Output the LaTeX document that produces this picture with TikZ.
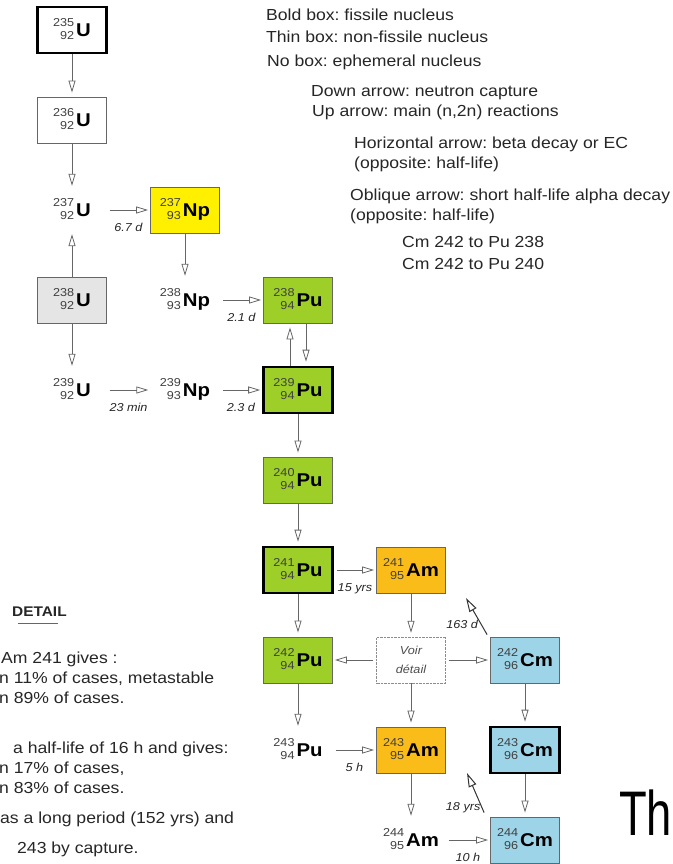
\documentclass[tikz,border=0pt]{standalone}
\usepackage{fontspec}
\setmainfont{Liberation Sans}[FakeStretch=1.1]
\newfontfamily\narrowfont{Liberation Sans}[FakeStretch=0.72]
\usetikzlibrary{arrows.meta}
\frenchspacing

\definecolor{npyellow}{RGB}{255,240,0}
\definecolor{pugreen}{RGB}{158,206,40}
\definecolor{amorange}{RGB}{250,188,24}
\definecolor{cmblue}{RGB}{158,212,232}

% mass number over atomic number, then the symbol
\newcommand{\nuc}[3]{%
  \raisebox{3.5pt}{\fontsize{11.5}{13}\selectfont\color{black!75}%
    \begin{tabular}{@{}r@{}}#1\\#2\end{tabular}}%
  \hspace{2pt}{\fontsize{18.5}{18.5}\selectfont\bfseries #3}}

\tikzset{
  nucl/.style={minimum width=69pt, minimum height=46pt, inner sep=0pt},
  ephemeral/.style={nucl, minimum height=40pt},
  thinbox/.style={nucl, draw=black!60, line width=0.8pt},
  boldbox/.style={nucl, draw=black, line width=2.6pt},
  capture/.style={draw=black!60, line width=0.8pt,
    -{Triangle[open, length=12pt, width=7pt]}, shorten >=4pt},
  decay/.style={capture, shorten <=3pt, shorten >=2pt},
  alpha/.style={draw=black!80, line width=1pt,
    -{Triangle[open, length=14pt, width=8pt]}},
  halflife/.style={below=12pt, inner sep=1pt,
    font=\fontsize{11.5}{11.5}\selectfont\itshape, text=black!85},
  legend/.style={anchor=base west, inner sep=0pt,
    font=\fontsize{16}{18}\selectfont, text=black!85},
  detailtext/.style={anchor=base west, inner sep=0pt,
    font=\fontsize{16}{18}\selectfont, text=black!85}
}

\begin{document}
\begin{tikzpicture}[x=1pt, y=-1pt]
\useasboundingbox (0,0) rectangle (672,864);

% uranium
\node[boldbox] (u235) at (72,30) {\nuc{235}{92}{U}};
\node[thinbox] (u236) at (72,120) {\nuc{236}{92}{U}};
\node[ephemeral] (u237) at (72,210) {\nuc{237}{92}{U}};
\node[thinbox, fill=black!10] (u238) at (72,300) {\nuc{238}{92}{U}};
\node[ephemeral] (u239) at (72,390) {\nuc{239}{92}{U}};

% neptunium
\node[thinbox, fill=npyellow] (np237) at (185,210) {\nuc{237}{93}{Np}};
\node[ephemeral] (np238) at (185,300) {\nuc{238}{93}{Np}};
\node[ephemeral] (np239) at (185,390) {\nuc{239}{93}{Np}};

% plutonium
\node[thinbox, fill=pugreen] (pu238) at (298,300) {\nuc{238}{94}{Pu}};
\node[boldbox, fill=pugreen] (pu239) at (298,390) {\nuc{239}{94}{Pu}};
\node[thinbox, fill=pugreen] (pu240) at (298,480) {\nuc{240}{94}{Pu}};
\node[boldbox, fill=pugreen] (pu241) at (298,570) {\nuc{241}{94}{Pu}};
\node[thinbox, fill=pugreen] (pu242) at (298,660) {\nuc{242}{94}{Pu}};
\node[ephemeral] (pu243) at (298,750) {\nuc{243}{94}{Pu}};

% americium
\node[thinbox, fill=amorange] (am241) at (411,570) {\nuc{241}{95}{Am}};
\node[nucl, draw=black!45, densely dotted, align=center, text=black!70,
  font=\fontsize{11.5}{13}\selectfont\itshape] (voir) at (411,660) {Voir\\[6pt]détail};
\node[thinbox, fill=amorange] (am243) at (411,750) {\nuc{243}{95}{Am}};
\node[ephemeral] (am244) at (411,840) {\nuc{244}{95}{Am}};

% curium
\node[thinbox, fill=cmblue] (cm242) at (525,660) {\nuc{242}{96}{Cm}};
\node[boldbox, fill=cmblue] (cm243) at (525,750) {\nuc{243}{96}{Cm}};
\node[thinbox, fill=cmblue] (cm244) at (525,840) {\nuc{244}{96}{Cm}};

% captures and (n,2n)
\draw[capture] (u235) -- (u236);
\draw[capture] (u236) -- (u237);
\draw[capture] (u238) -- (u237);
\draw[capture] (u238) -- (u239);
\draw[capture] (np237) -- (np238);
\draw[capture] ([xshift=-8pt]pu239.north) -- ([xshift=-8pt]pu238.south);
\draw[capture] ([xshift=8pt]pu238.south) -- ([xshift=8pt]pu239.north);
\draw[capture] (pu239) -- (pu240);
\draw[capture] (pu240) -- (pu241);
\draw[capture] (pu241) -- (pu242);
\draw[capture] (pu242) -- (pu243);
\draw[capture] (am241) -- (voir);
\draw[capture] (voir) -- (am243);
\draw[capture] (am243) -- (am244);
\draw[capture] (cm242) -- (cm243);
\draw[capture] (cm243) -- (cm244);

% beta decays
\draw[decay] (u237) -- node[halflife] {6.7 d} (np237);
\draw[decay] (np238) -- node[halflife] {2.1 d} (pu238);
\draw[decay] (u239) -- node[halflife] {23 min} (np239);
\draw[decay] (np239) -- node[halflife] {2.3 d} (pu239);
\draw[decay] (pu241) -- node[halflife] {15 yrs} (am241);
\draw[decay] (voir) -- (pu242);
\draw[decay] (voir) -- (cm242);
\draw[decay] (pu243) -- node[halflife] {5 h} (am243);
\draw[decay] (am244) -- node[halflife] {10 h} (cm244);

% alpha decays
\coordinate (alphaone) at (466,598);
\coordinate (alphatwo) at (467,773);
\draw[alpha] ([xshift=-3pt, yshift=2pt]cm242.north west) -- node[pos=0.27, left=3pt, inner sep=0pt,
  font=\fontsize{11.5}{11.5}\selectfont\itshape, text=black!85] {163 d} (alphaone);
\draw[alpha] ([xshift=-6pt, yshift=4pt]cm244.north west) -- node[pos=0.13, left=1pt, inner sep=0pt,
  font=\fontsize{11.5}{11.5}\selectfont\itshape, text=black!85] {18 yrs} (alphatwo);

% legend
\node[legend] (leg1) at (266,21) {Bold box: fissile nucleus};
\node[legend] (leg2) at (266,43) {Thin box: non-fissile nucleus};
\node[legend] (leg3) at (267,67) {No box: ephemeral nucleus};
\node[legend] (leg4) at (311,97) {Down arrow: neutron capture};
\node[legend] (leg5) at (312,117) {Up arrow: main (n,2n) reactions};
\node[legend] (leg6) at (354,148) {Horizontal arrow: beta decay or EC};
\node[legend] (leg7) at (354,168) {(opposite: half-life)};
\node[legend] (leg8) at (350,200) {Oblique arrow: short half-life alpha decay};
\node[legend] (leg9) at (350,220) {(opposite: half-life)};
\node[legend] (leg10) at (402,247) {Cm 242 to Pu 238};
\node[legend] (leg11) at (402,269) {Cm 242 to Pu 240};

% detail
\node[detailtext, font=\fontsize{14}{16}\selectfont\bfseries] (dethead) at (12,616) {DETAIL};
\draw[black!60, line width=0.8pt] (18,623) -- (58,623);
\node[detailtext] (det1) at (1,663) {Am 241 gives :};
\node[detailtext] (det2) at (-1,683) {n 11\% of cases, metastable};
\node[detailtext] (det3) at (-1,703) {n 89\% of cases.};
\node[detailtext] (det4) at (13,753) {a half-life of 16 h and gives:};
\node[detailtext] (det5) at (-1,773) {n 17\% of cases,};
\node[detailtext] (det6) at (-1,793) {n 83\% of cases.};
\node[detailtext] (det7) at (0,823) {as a long period (152 yrs) and};
\node[detailtext] (det8) at (17,853) {243 by capture.};

\node[anchor=base west, inner sep=0pt, font=\fontsize{63}{63}\selectfont\narrowfont] (th) at (619,835) {Th};
\end{tikzpicture}
\end{document}
